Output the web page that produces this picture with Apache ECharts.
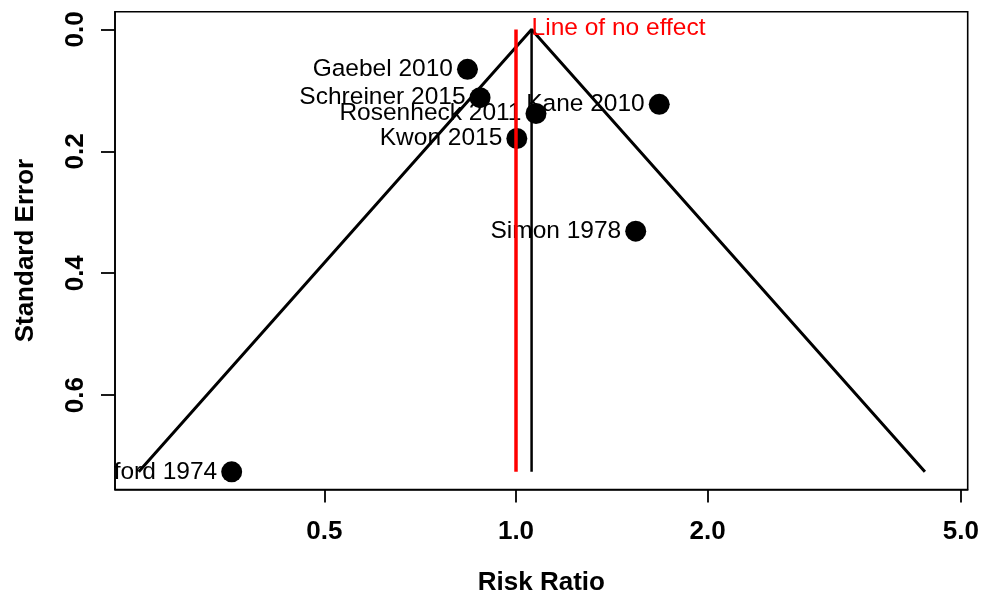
<!DOCTYPE html>
<html><head><meta charset="utf-8">
<script src="https://cdn.jsdelivr.net/npm/echarts@6/dist/echarts.min.js"></script>
<style>html,body{margin:0;padding:0;background:#fff}#c{width:983px;height:598px}</style>
</head><body><div id="c"></div>
<script>
// Study data (risk ratio, standard error)
const studies = ['Gaebel 2010','Schreiner 2015','Kane 2010','Rosenheck 2011','Kwon 2015','Simon 1978','Crawford 1974'];
const riskRatio = [0.839, 0.878, 1.679, 1.075, 1.003, 1.542, 0.3575];
const stdError  = [0.0656, 0.112, 0.123, 0.138, 0.179, 0.331, 0.7257];
// Funnel (pooled estimate and 95% limits at max SE)
const funnelRR = [0.2554, 1.058, 4.39];
const funnelSE = [0.7257, 0, 0.7257];
const pooledRR = 1.058;
const noEffectRR = 1;
const lineSE = [0, 0.7257];
const xTicks = [0.5, 1, 2, 5];
const yTicks = [0, 0.2, 0.4, 0.6];

const FONT = '"Liberation Sans", Arial, sans-serif';
const chart = echarts.init(document.getElementById('c'), null, {renderer:'canvas'});
chart.setOption({
  animation:false,
  backgroundColor:'#fff',
  grid:{left:115, right:15.3, top:11.7, bottom:108.5, outerBoundsMode:'none', containLabel:false,
        show:true, borderColor:'#000', borderWidth:1.6, backgroundColor:'transparent'},
  xAxis:{
    type:'log', logBase:10, min:0.2344, max:5.125,
    name:'Risk Ratio', nameLocation:'middle', nameGap:80,
    nameTextStyle:{fontFamily:FONT, fontSize:26, fontWeight:'bold', color:'#000'},
    axisLine:{show:true, onZero:false, lineStyle:{color:'#000', width:1.6}},
    axisTick:{show:true, length:13, lineStyle:{color:'#000', width:1.8}, customValues:xTicks},
    axisLabel:{fontFamily:FONT, fontSize:26, fontWeight:'bold', color:'#000', margin:29, customValues:xTicks,
      formatter:v=>Number(v).toFixed(1)},
    splitLine:{show:false}, minorTick:{show:false}
  },
  yAxis:{
    type:'value', inverse:true, min:-0.029, max:0.7547,
    name:'Standard Error', nameLocation:'middle', nameGap:76,
    nameTextStyle:{fontFamily:FONT, fontSize:26, fontWeight:'bold', color:'#000'},
    axisLine:{show:true, onZero:false, lineStyle:{color:'#000', width:1.6}},
    axisTick:{show:true, inside:false, length:14, lineStyle:{color:'#000', width:1.8}, customValues:yTicks},
    axisLabel:{fontFamily:FONT, fontSize:26, fontWeight:'bold', color:'#000', margin:26, rotate:90, customValues:yTicks,
      formatter:v=>Number(v).toFixed(1)},
    splitLine:{show:false}
  },
  series:[
    {type:'scatter', z:2, symbol:'circle', symbolSize:21, itemStyle:{color:'#000', opacity:1},
     data:studies.map((n,i)=>({name:n, value:[riskRatio[i], stdError[i]]})),
     label:{show:true, position:'left', distance:4, formatter:'{b}', fontFamily:FONT, fontSize:24.5, color:'#000', opacity:1}},
    {type:'line', z:5, symbol:'none', lineStyle:{color:'#000', width:3},
     data:funnelRR.map((r,i)=>[r, funnelSE[i]])},
    {type:'line', z:5, symbol:'none', lineStyle:{color:'#000', width:2.5},
     data:lineSE.map(s=>[pooledRR, s])},
    {type:'line', z:6, symbol:'none', lineStyle:{color:'#ff0000', width:3.5},
     data:lineSE.map(s=>[noEffectRR, s])},
    {type:'scatter', z:6, symbolSize:0, itemStyle:{opacity:1}, data:[{name:'Line of no effect', value:[pooledRR, 0]}],
     label:{show:true, position:'right', distance:0, offset:[0,-1], formatter:'{b}', fontFamily:FONT, fontSize:24.5, color:'#ff0000', opacity:1}}
  ],
  graphic:[{type:'rect', z:100, shape:{x:0, y:450, width:114, height:38}, style:{fill:'#fff'}}]
});
</script></body></html>
